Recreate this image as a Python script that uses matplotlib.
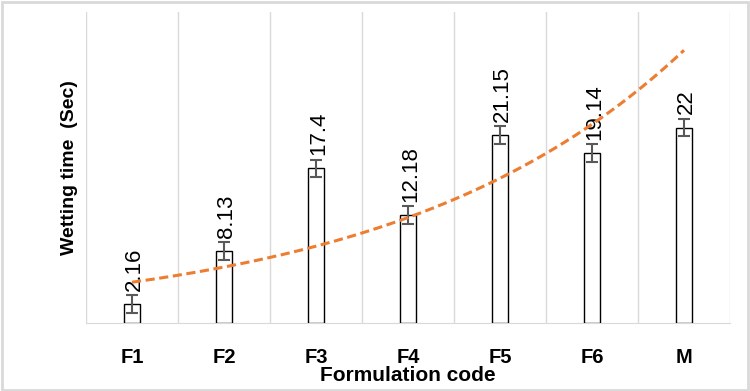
import numpy as np
import matplotlib.pyplot as plt

plt.rcParams['font.family'] = ['Liberation Sans', 'DejaVu Sans']

codes = ['F1', 'F2', 'F3', 'F4', 'F5', 'F6', 'M']
wetting = [2.16, 8.13, 17.4, 12.18, 21.15, 19.14, 22]
err = [1.0, 1.0, 1.0, 1.0, 1.0, 1.0, 1.0]
labels = ['2.16', '8.13', '17.4', '12.18', '21.15', '19.14', '22']

x = np.arange(1, len(codes) + 1)

fig = plt.figure(figsize=(7.5, 3.91), dpi=100)
ax = fig.add_axes([86 / 750, (391 - 323) / 391, 644 / 750, 311 / 391])

ax.bar(x, wetting, width=0.18, color='white', edgecolor='black', linewidth=1, zorder=3)
ax.errorbar(x, wetting, yerr=err, fmt='none', ecolor='#595959', elinewidth=1.5,
            capsize=4.5, capthick=1.5, zorder=4)

for xi, v, e, lab in zip(x, wetting, err, labels):
    ax.annotate(lab, (xi, v + e), xytext=(2, 3), textcoords='offset points',
                rotation=90, ha='center', va='bottom', fontsize=16, zorder=5)

# exponential trendline
b, a = np.polyfit(x, np.log(wetting), 1)
xs = np.linspace(1, 7, 200)
ax.plot(xs, np.exp(a + b * xs), color='#ED7D31', linestyle=(0, (3, 1.5)),
        linewidth=2.2, zorder=6)

ax.set_xlim(0.5, 7.5)
ax.set_ylim(0, 35)
for g in np.arange(0.5, 8, 1):
    ax.axvline(g, color='#d9d9d9', linewidth=1, zorder=1)

ax.set_yticks([])
ax.set_xticks(x)
ax.set_xticklabels(codes, fontsize=14.5, fontweight='bold')
ax.tick_params(axis='x', length=0, pad=18)
for s in ['top', 'right', 'left']:
    ax.spines[s].set_visible(False)
ax.spines['bottom'].set_color('#d9d9d9')

ax.set_xlabel('Formulation code', fontsize=15, fontweight='bold', labelpad=-1)
ax.set_ylabel('Wetting time  (Sec)', fontsize=14, fontweight='bold', labelpad=6)

fig.patches.append(plt.Rectangle((0.002, 0.003), 0.995, 0.993, transform=fig.transFigure,
                                 fill=False, edgecolor='#d9d9d9', linewidth=2))

fig.savefig('out.png', dpi=100)
